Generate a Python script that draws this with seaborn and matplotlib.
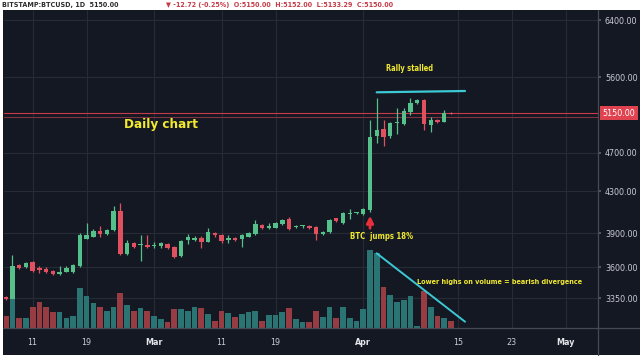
import numpy as np
import pandas as pd
import seaborn as sns
import matplotlib
matplotlib.use("Agg")
import matplotlib.pyplot as plt
import matplotlib.dates as mdates
from matplotlib import font_manager
from matplotlib.patches import Rectangle
from matplotlib.lines import Line2D
from matplotlib.ticker import NullLocator
import matplotlib.transforms as mtransforms

# ---------------- data ----------------
start_date = "2019-02-07"
opens = [3362, 3345, 3620, 3601, 3645, 3592, 3585, 3573, 3548, 3565, 3565, 3612, 3850, 3868,
         3920, 3888, 3925, 4106, 3714, 3812, 3790, 3792, 3780, 3785, 3800, 3778, 3700, 3837,
         3840, 3852, 3822, 3900, 3882, 3838, 3858, 3845, 3868, 3888, 3975, 3950, 3950, 3980,
         4029, 3955, 3960, 3966, 3958, 3888, 3907, 4035, 3989, 4080, 4085, 4073, 4114, 4887,
         4963, 4887, 5035, 5025, 5170, 5280, 5314, 5013, 5075, 5052, 5159]
highs = [3372, 3705, 3630, 3648, 3650, 3612, 3600, 3580, 3612, 3612, 3630, 3900, 3990, 3935,
         3965, 3940, 4155, 4185, 3837, 3820, 3882, 3880, 3820, 3820, 3810, 3785, 3840, 3888,
         3870, 3870, 3945, 3910, 3890, 3882, 3865, 3890, 3910, 4020, 3985, 3990, 4000, 4030,
         4045, 3970, 3975, 3975, 3965, 3920, 4030, 4040, 4095, 4124, 4095, 4135, 5072, 5334,
         5072, 5052, 5215, 5215, 5334, 5330, 5330, 5110, 5085, 5190, 5165]
lows = [3335, 3330, 3590, 3595, 3565, 3555, 3550, 3535, 3540, 3560, 3555, 3605, 3845, 3860,
        3868, 3880, 3920, 3705, 3705, 3770, 3654, 3765, 3770, 3770, 3760, 3680, 3690, 3800,
        3830, 3765, 3815, 3860, 3810, 3810, 3830, 3778, 3860, 3880, 3940, 3935, 3945, 3975,
        3930, 3945, 3950, 3940, 3837, 3880, 3900, 4000, 3980, 4029, 4075, 4065, 4100, 4808,
        4780, 4870, 4910, 5015, 5135, 5270, 4955, 4930, 5035, 5045, 5140]
closes = [3345, 3612, 3595, 3640, 3570, 3575, 3565, 3543, 3562, 3592, 3620, 3880, 3878, 3915,
          3888, 3925, 4106, 3714, 3808, 3778, 3795, 3778, 3795, 3808, 3770, 3690, 3828, 3865,
          3858, 3822, 3907, 3880, 3828, 3858, 3840, 3880, 3900, 3980, 3948, 3968, 3990, 4020,
          3937, 3962, 3966, 3949, 3888, 3912, 4020, 4013, 4083, 4085, 4088, 4124, 4879, 4955,
          4879, 5033, 5045, 5183, 5273, 5314, 5025, 5072, 5045, 5159, 5143]
volumes = [12, 28.7, 10.3, 10.3, 20.7, 25.7, 20.7, 15.7, 15.7, 9.7, 12.3, 39.7, 32, 24.7,
           20.7, 17, 20.7, 35.3, 23, 17, 19.7, 17.3, 12.3, 8.7, 6.3, 18.7, 18.7, 17, 20.7,
           19.7, 13.7, 7.3, 17, 14.7, 11.3, 13.7, 16.3, 17.3, 7.3, 13, 13, 16.3, 19.7, 9,
           6.3, 5.7, 17.3, 11.3, 20.7, 10.3, 21.3, 10.3, 7, 18.7, 78, 74.7, 41.3, 33, 25.7,
           28, 32, 2, 37.3, 20.7, 12, 9.7, 7]

price_ticks = [3350, 3600, 3900, 4300, 4700, 5600, 6400]
last_price = 5150
second_line = 5104
tick_dates = ["2019-02-11", "2019-02-19", "2019-03-01", "2019-03-11", "2019-03-19",
              "2019-04-01", "2019-04-15", "2019-04-23", "2019-05-01"]
tick_labels = ["11", "19", "Mar", "11", "19", "Apr", "15", "23", "May"]
header_left = "BITSTAMP:BTCUSD, 1D  5150.00"
header_right = "\u25bc -12.72 (-0.25%)  O:5150.00  H:5152.00  L:5133.29  C:5150.00"

# ---------------- style ----------------
sns.set_theme(style="dark")

_fonts = font_manager.fontManager.ttflist
if any(f.name == "Liberation Sans Narrow" for f in _fonts):
    FAM, STRETCH, K = "Liberation Sans Narrow", "normal", 1.0
elif any(f.name == "DejaVu Sans" and str(f.stretch) in ("condensed", "semi-condensed")
         for f in _fonts):
    FAM, STRETCH, K = "DejaVu Sans", "condensed", 0.86
else:
    FAM, STRETCH, K = "Liberation Sans", "normal", 0.84
plt.rcParams["font.family"] = [FAM, "DejaVu Sans"]
plt.rcParams["font.stretch"] = STRETCH

BG = "#141823"
GRID = "#272b36"
UP = "#55c08a"
DOWN = "#e0505e"
VUP = "#2a7473"
VDOWN = "#983c44"
YEL = "#f2ea2e"
CYAN = "#3cc8d4"
LBL = "#c9ccd3"

dates = pd.date_range(start_date, periods=len(opens), freq="D")
x = mdates.date2num(dates)
df = pd.DataFrame({"x": x, "open": opens, "high": highs, "low": lows,
                   "close": closes, "volume": volumes})
df["dir"] = np.where(df["close"] >= df["open"], "up", "down")

W, H = 640, 360
fig = plt.figure(figsize=(6.4, 3.6), dpi=100, facecolor="white")
fig.patches.append(Rectangle((3 / W, 5 / H), 637 / W, 345 / H, transform=fig.transFigure,
                             facecolor=BG, edgecolor="none", zorder=-10))

ax = fig.add_axes([4 / W, 32 / H, 594 / W, 318 / H])
ax.set_facecolor(BG)
ax.set_yscale("log")
ax.set_ylim(3127, 6551)
x0 = mdates.date2num(pd.Timestamp("2019-02-08"))
ax.set_xlim(x0 - 1.245, x0 + 86.79)

# candles
for _, r in df.iterrows():
    col = UP if r["close"] >= r["open"] else DOWN
    ax.vlines(r["x"], r["low"], r["high"], color=col, lw=0.9, zorder=3)
    lo = min(r["open"], r["close"])
    h = max(abs(r["close"] - r["open"]), lo * 0.0025)
    ax.bar(r["x"], h, bottom=lo, width=0.66, color=col, edgecolor="none", linewidth=0,
           zorder=4)

ax.axhline(last_price, color="#c8394a", lw=0.8, zorder=2)
ax.axhline(second_line, color="#7d3341", lw=0.8, zorder=2)

# axes/ticks
ax.yaxis.set_minor_locator(NullLocator())
ax.set_yticks(price_ticks, [f"{v:.2f}" for v in price_ticks])
ax.set_xticks(mdates.date2num(pd.to_datetime(tick_dates)), tick_labels)
ax.grid(True, color=GRID, lw=0.8)
for s in ax.spines.values():
    s.set_visible(False)

# volume axis
axv = ax.twinx()
ax.yaxis.tick_right()
axv.set_ylim(0, 318)
sns.barplot(data=df, x="x", y="volume", hue="dir", palette={"up": VUP, "down": VDOWN},
            native_scale=True, width=0.85, dodge=False, errorbar=None, legend=False,
            saturation=1, edgecolor="none", linewidth=0, ax=axv, zorder=2)
axv.set_xlim(x0 - 1.245, x0 + 86.79)
axv.set_yticks([])
axv.set_xlabel("")
axv.set_ylabel("")
for s in axv.spines.values():
    s.set_visible(False)
axv.patch.set_alpha(0)

ax.tick_params(axis="y", which="both", length=2.5, color="#5a5e69", labelsize=7.4 * K,
               labelcolor=LBL, pad=2.5, right=True, left=False, labelright=True, labelleft=False)
ax.tick_params(axis="x", length=2, color="#5a5e69", labelsize=7.4 * K, labelcolor=LBL, pad=5)
for lab in ax.get_xticklabels():
    if lab.get_text() in ("Mar", "Apr", "May"):
        lab.set_fontweight("bold")
        lab.set_color("#e4e6ea")

# last price tag
trans = mtransforms.blended_transform_factory(ax.transAxes, ax.transData)
ax.text(1.008, last_price, f"{last_price:.2f}", transform=trans, ha="left", va="center",
        fontsize=7.4 * K, color="white", clip_on=False,
        bbox=dict(boxstyle="square,pad=0.28", facecolor="#e0424f", edgecolor="none"))

# frame lines
fig.lines.append(Line2D([598 / W, 598 / W], [5 / H, 350 / H], transform=fig.transFigure,
                        color="#454a55", lw=0.9))
fig.lines.append(Line2D([3 / W, 1], [32 / H, 32 / H], transform=fig.transFigure,
                        color="#454a55", lw=0.9))

# annotations
axv.text(0.264, 0.6415, "Daily chart", transform=axv.transAxes, ha="center", va="center",
         fontsize=11.2 * K, fontweight="bold", color=YEL)
axv.text(0.6835, 0.8145, "Rally stalled", transform=axv.transAxes, ha="center", va="center",
         fontsize=6.3 * K, fontweight="bold", color=YEL)
axv.plot([0.6274, 0.7761], [0.7412, 0.7453], transform=axv.transAxes, color=CYAN, lw=1.6)
axv.text(0.5825, 0.2893, "BTC  jumps 18%", transform=axv.transAxes, ha="left", va="center",
         fontsize=6.5 * K, fontweight="bold", color=YEL)
axv.annotate("", xy=(0.6162, 0.3616), xytext=(0.6162, 0.305), xycoords="axes fraction",
             arrowprops=dict(arrowstyle="-|>", color="#e8303a", lw=2, mutation_scale=10))
axv.plot([0.6274, 0.7761], [0.2349, 0.0198], transform=axv.transAxes, color=CYAN, lw=1.4,
         zorder=5)
axv.text(0.6953, 0.1447, "Lower highs on volume = bearish divergence", transform=axv.transAxes,
         ha="left", va="center", fontsize=6.1 * K, fontweight="bold", color=YEL, zorder=6)

# header line in the white strip above the chart
fig.text(2 / W, 1 - 5 / H, header_left, ha="left", va="center", fontsize=6 * K,
         color="#2b2b2b", fontweight="bold")
fig.text(166 / W, 1 - 5 / H, header_right, ha="left", va="center", fontsize=6 * K,
         color="#c43c48", fontweight="bold")

fig.savefig("out.png", dpi=100, facecolor="white")
